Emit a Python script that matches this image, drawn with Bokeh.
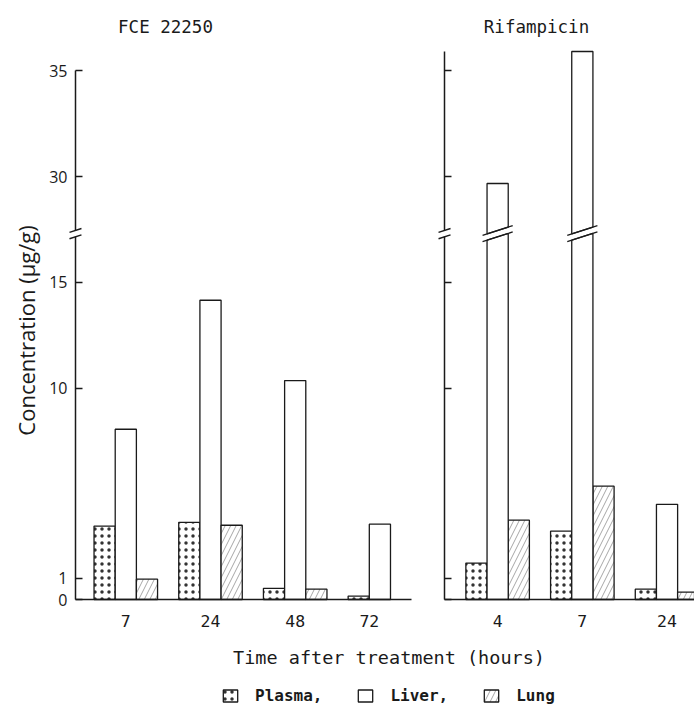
from bokeh.plotting import figure
from bokeh.models import (Range1d, LinearAxis, FixedTicker, Label, Legend,
                          LegendItem)
from bokeh.embed import file_html
from bokeh.resources import INLINE

# ---------------- data ----------------
fce_hours = ["7", "24", "48", "72"]
fce_plasma = [3.47, 3.65, 0.53, 0.16]
fce_liver = [8.05, 14.15, 10.35, 3.56]
fce_lung = [0.96, 3.51, 0.49, 0.0]

rif_hours = ["4", "7", "24"]
rif_plasma = [1.72, 3.23, 0.49]
rif_liver = [29.67, 35.91, 4.50]
rif_lung = [3.75, 5.36, 0.35]

lower_ticks = [0, 1, 10, 15]
upper_ticks = [30, 35]
panel_titles = ["FCE 22250", "Rifampicin"]
series_labels = ["Plasma,", "Liver,", "Lung"]
x_title = "Time after treatment (hours)"
y_title = "Concentration (µg/g)"

# ---------------- layout / style ----------------
W, H = 694, 711
SX, SY = 84.7, 21.15          # px per x unit / per y unit
X0, Y0 = 125.3, 599.0         # canvas px of first group centre / of zero
BREAK_LO, BREAK_HI = 17.15, 27.45
UPPER_SHIFT = 10.0
PANEL_START = [0.0, 4.39]
AXIS_OFFSET = [0.594, 0.627]
BAR_W = 0.25
SLOPE = 0.32 * SX / SY
INK = "#1a1a1a"
MONO = "DejaVu Sans Mono"
SANS = "Open Sans"


def dx(px):
    return (px - X0) / SX


def dy(py):
    return (Y0 - py) / SY


p = figure(width=W, height=H,
           x_range=Range1d(dx(0), dx(W)), y_range=Range1d(dy(H), dy(0)),
           x_axis_type=None, y_axis_type=None,
           output_backend="svg", toolbar_location=None,
           min_border=0, outline_line_color=None,
           background_fill_color="white", border_fill_color="white")
p.extra_y_ranges = {"upper": Range1d(dy(H) + UPPER_SHIFT, dy(0) + UPPER_SHIFT)}

panels = [(fce_hours, fce_plasma, fce_liver, fce_lung),
          (rif_hours, rif_plasma, rif_liver, rif_lung)]

plasma_x, plasma_top = [], []
liver_x, liver_top = [], []
lung_x, lung_top = [], []
broken = []
for k, (hours, pl, lv, lg) in enumerate(panels):
    for i in range(len(hours)):
        c = PANEL_START[k] + i
        if pl[i] > 0:
            plasma_x.append(c - BAR_W); plasma_top.append(pl[i])
        if lg[i] > 0:
            lung_x.append(c + BAR_W); lung_top.append(lg[i])
        if lv[i] > BREAK_LO:
            broken.append((c, lv[i]))
        elif lv[i] > 0:
            liver_x.append(c); liver_top.append(lv[i])

bar_style = dict(width=BAR_W, bottom=0, fill_color="white",
                 line_color=INK, line_width=1.3)

plasma_r = p.vbar(x=plasma_x, top=plasma_top, hatch_pattern="dot",
                  hatch_scale=7, hatch_weight=0.2, hatch_color="#333333",
                  **bar_style)
liver_r = p.vbar(x=liver_x, top=liver_top, **bar_style)
lung_r = p.vbar(x=lung_x, top=lung_top, hatch_pattern="/", hatch_scale=11,
                hatch_weight=0.7, hatch_color="#808080", **bar_style)

# broken (tall) liver bars: lower and upper parts with slanted break
h = BAR_W / 2
lo_xs, lo_ys, up_xs, up_ys = [], [], [], []
for c, v in broken:
    lo_xs.append([c - h, c + h, c + h, c - h])
    lo_ys.append([0, 0, BREAK_LO + SLOPE * h, BREAK_LO - SLOPE * h])
    up_xs.append([c - h, c + h, c + h, c - h])
    up_ys.append([BREAK_HI - SLOPE * h, BREAK_HI + SLOPE * h, v, v])
p.patches(lo_xs, lo_ys, fill_color="white", line_color=INK, line_width=1.3)
p.patches(up_xs, up_ys, fill_color="white", line_color=INK, line_width=1.3,
          y_range_name="upper")

hx = h + 4.5 / SX
bc = [c for c, v in broken]
p.segment(x0=[c - hx for c in bc], x1=[c + hx for c in bc],
          y0=[BREAK_LO - SLOPE * hx] * len(bc), y1=[BREAK_LO + SLOPE * hx] * len(bc),
          line_color=INK, line_width=1.3)
p.segment(x0=[c - hx for c in bc], x1=[c + hx for c in bc],
          y0=[BREAK_HI - SLOPE * hx] * len(bc), y1=[BREAK_HI + SLOPE * hx] * len(bc),
          line_color=INK, line_width=1.3, y_range_name="upper")

# axes
axis_style = dict(axis_line_color=INK, axis_line_width=1.5,
                  major_tick_line_color=INK, major_tick_line_width=1.5,
                  major_tick_in=7, major_tick_out=0, major_label_standoff=8,
                  major_label_text_font=SANS, major_label_text_font_size="16px")
ax_hx = 6 / SX
for k, (hours, pl, lv, lg) in enumerate(panels):
    start = PANEL_START[k]
    ax_x = start - AXIS_OFFSET[k]
    label_color = INK if k == 0 else None
    top = max(max(upper_ticks), max(lv))
    ya = LinearAxis(fixed_location=ax_x, ticker=FixedTicker(ticks=lower_ticks),
                    bounds=(0, BREAK_LO), major_label_text_color=label_color,
                    **axis_style)
    p.add_layout(ya, "left")
    yb = LinearAxis(fixed_location=ax_x, y_range_name="upper",
                    ticker=FixedTicker(ticks=upper_ticks),
                    bounds=(BREAK_HI, top), major_label_text_color=label_color,
                    **axis_style)
    p.add_layout(yb, "left")
    # break marks on the axis
    p.segment(x0=[ax_x - ax_hx], x1=[ax_x + ax_hx],
              y0=[BREAK_LO - SLOPE * ax_hx], y1=[BREAK_LO + SLOPE * ax_hx],
              line_color=INK, line_width=1.5)
    p.segment(x0=[ax_x - ax_hx], x1=[ax_x + ax_hx],
              y0=[BREAK_HI - SLOPE * ax_hx], y1=[BREAK_HI + SLOPE * ax_hx],
              line_color=INK, line_width=1.5, y_range_name="upper")

    ticks = []
    for i in range(len(hours)):
        c = start + i
        cs = [x for x, val in ((c - BAR_W, pl[i]), (c, lv[i]), (c + BAR_W, lg[i])) if val > 0]
        ticks.append(sum(cs) / len(cs))
    end = min(start + len(hours) - 1 + 1.5 * BAR_W, p.x_range.end)
    xa = LinearAxis(fixed_location=0, ticker=FixedTicker(ticks=ticks),
                    major_label_overrides={t: lab for t, lab in zip(ticks, hours)},
                    bounds=(ax_x, end), axis_line_color=INK, axis_line_width=1.5,
                    major_tick_line_color=None, major_label_standoff=9,
                    major_label_text_font=MONO, major_label_text_font_size="16.5px",
                    major_label_text_color=INK)
    p.add_layout(xa, "below")

# texts
for t, cx in zip(panel_titles, [165, 536]):
    p.add_layout(Label(x=dx(cx), y=dy(26), text=t, text_font=MONO,
                       text_font_size="17.5px", text_align="center",
                       text_baseline="alphabetic", text_color=INK))
p.add_layout(Label(x=dx(388.5), y=dy(657), text=x_title, text_font=MONO,
                   text_font_size="18.5px", text_align="center",
                   text_baseline="alphabetic", text_color=INK))
p.add_layout(Label(x=dx(25), y=dy(330), text=y_title, text_font=SANS,
                   text_font_size="22px", text_align="center", angle=90,
                   angle_units="deg", text_baseline="middle", text_color=INK))

legend = Legend(items=[LegendItem(label=series_labels[0], renderers=[plasma_r]),
                       LegendItem(label=series_labels[1], renderers=[liver_r]),
                       LegendItem(label=series_labels[2], renderers=[lung_r])],
                orientation="horizontal", location=(221, 6), padding=0, margin=0,
                spacing=34, label_standoff=16, glyph_width=18, glyph_height=15,
                border_line_color=None, background_fill_alpha=0,
                label_text_font=MONO, label_text_font_style="bold",
                label_text_font_size="16px", label_text_color=INK)
p.add_layout(legend)

open("out.html", "w").write(file_html(p, INLINE))
